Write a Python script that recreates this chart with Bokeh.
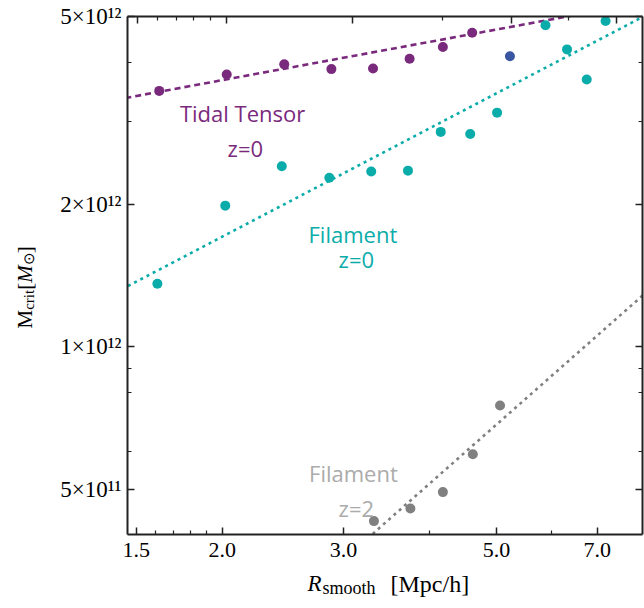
import math
import numpy as np
from bokeh.plotting import figure
from bokeh.layouts import row, column
from bokeh.models import (LogAxis, FixedTicker, Range1d, LogScale, Label,
                          CustomJSTickFormatter)
from bokeh.core.properties import value
from bokeh.embed import file_html
from bokeh.resources import INLINE

# ---------------- data ----------------
tidal_R = [1.62, 2.03, 2.46, 2.88, 3.31, 3.74, 4.18, 4.61]
tidal_M = [3.48e12, 3.77e12, 3.96e12, 3.87e12, 3.88e12, 4.07e12, 4.31e12, 4.62e12]
tidal_extra_R = [5.23]
tidal_extra_M = [4.12e12]
fil0_R = [1.61, 2.02, 2.44, 2.86, 3.29, 3.72, 4.15, 4.58, 5.01, 5.89, 6.33, 6.76, 7.20]
fil0_M = [1.36e12, 1.99e12, 2.41e12, 2.28e12, 2.35e12, 2.36e12, 2.85e12, 2.82e12,
          3.13e12, 4.79e12, 4.26e12, 3.68e12, 4.89e12]
fil2_R = [3.32, 3.75, 4.18, 4.62, 5.06]
fil2_M = [4.28e11, 4.55e11, 4.93e11, 5.93e11, 7.52e11]

# power-law fits: M = norm * (R / pivot) ** slope
fit_pivot = 3.0
fit_R = [1.40, 8.30]
tidal_fit_norm, tidal_fit_slope = 4.09e12, 0.269
fil0_fit_norm, fil0_fit_slope = 2.33e12, 0.762
fil2_fit_norm, fil2_fit_slope = 3.55e11, 1.287

x_ticks = [1.5, 2.0, 3.0, 5.0, 7.0]
x_minor = [1.6, 1.7, 1.8, 1.9, 4.0, 6.0]
x_tick_labels = ["1.5", "2.0", "3.0", "5.0", "7.0"]
y_ticks = [5e11, 1e12, 2e12, 5e12]
y_minor = [6e11, 8e11, 9e11, 3e12, 4e12]
y_tick_labels = ["5\u00d710\u00b9\u00b9", "1\u00d710\u00b9\u00b2", "2\u00d710\u00b9\u00b2", "5\u00d710\u00b9\u00b2"]

# ---------------- styling ----------------
PURPLE = "#7a2a7d"
BLUE = "#3a55a2"
TEAL = "#0aacaa"
GREY = "#808080"
GREY_TXT = "#ababab"
AXC = "#222222"
SERIF = "Liberation Serif"
SANS = "Open Sans"
W, H = 644, 608
LW = 44          # width of the strip holding the y title
BH = 40          # height of the strip holding the x title
FRAME_L, FRAME_R = 127, 642

p = figure(width=W - LW, height=H - BH, x_axis_type="log", y_axis_type="log",
           x_range=Range1d(1.457, 8.145), y_range=Range1d(4.01e11, 5e12),
           output_backend="svg", toolbar_location=None,
           min_border_left=FRAME_L - LW, min_border_right=W - FRAME_R, min_border_top=16,
           min_border_bottom=H - BH - 534)
p.background_fill_color = "white"
p.border_fill_color = "white"
p.outline_line_color = None
p.xgrid.visible = False
p.ygrid.visible = False

fmt_js = """
let best = 0, bd = 1e99;
for (let i = 0; i < tvals.length; i++) {
  const d = Math.abs(Math.log(tick / tvals[i]));
  if (d < bd) { bd = d; best = i; }
}
return bd < 1e-6 ? tlabels[best] : "";
"""
blank_js = "return '';"

def style_axis(ax, ticks, minor, labels=None, size="22px"):
    ax.ticker = FixedTicker(ticks=ticks, minor_ticks=minor)
    ax.axis_line_color = AXC
    ax.axis_line_width = 2
    ax.major_tick_line_color = AXC
    ax.major_tick_line_width = 1.5
    ax.minor_tick_line_color = AXC
    ax.minor_tick_line_width = 1.2
    ax.major_tick_in = 7
    ax.major_tick_out = 0
    ax.minor_tick_in = 4
    ax.minor_tick_out = 0
    if labels is None:
        ax.formatter = CustomJSTickFormatter(code=blank_js)
        ax.major_label_standoff = 0
    else:
        ax.formatter = CustomJSTickFormatter(args=dict(tvals=ticks, tlabels=labels), code=fmt_js)
        ax.major_label_text_font = SERIF
        ax.major_label_text_font_size = size
        ax.major_label_text_color = "black"

style_axis(p.xaxis[0], x_ticks, x_minor, x_tick_labels, "22px")
p.xaxis[0].major_label_standoff = 8
style_axis(p.yaxis[0], y_ticks, y_minor, y_tick_labels, "23px")
p.yaxis[0].major_label_standoff = 6

# top axis has a slightly different mapping in the reference
p.extra_x_ranges = {"top": Range1d(1.454, 7.617)}
p.extra_x_scales = {"top": LogScale()}
top_ax = LogAxis(x_range_name="top")
style_axis(top_ax, x_ticks, x_minor)
p.add_layout(top_ax, "above")
right_ax = LogAxis()
style_axis(right_ax, y_ticks, y_minor)
p.add_layout(right_ax, "right")

# ---------------- fit lines ----------------
fr = np.array(fit_R)
p.line(fr, tidal_fit_norm * (fr / fit_pivot) ** tidal_fit_slope, color=PURPLE,
       line_width=2.6, line_dash="6 4")
p.line(fr, fil0_fit_norm * (fr / fit_pivot) ** fil0_fit_slope, color=TEAL,
       line_width=2.6, line_dash="3 4")
p.line(fr, fil2_fit_norm * (fr / fit_pivot) ** fil2_fit_slope, color=GREY,
       line_width=2.6, line_dash="3 4")

# ---------------- points ----------------
p.scatter(tidal_R, tidal_M, size=10, color=PURPLE, line_color=None)
p.scatter(tidal_extra_R, tidal_extra_M, size=10, color=BLUE, line_color=None)
p.scatter(fil0_R, fil0_M, size=10, color=TEAL, line_color=None)
p.scatter(fil2_R, fil2_M, size=10, color=GREY, line_color=None)

# ---------------- in-plot labels ----------------
def txt(x, y, s, color):
    p.add_layout(Label(x=x, y=y, text=s, text_color=color, text_font=SANS,
                       text_font_size="22px", text_align="center",
                       text_baseline="middle"))

txt(2.14, 3.13e12, "Tidal Tensor", PURPLE)
txt(2.16, 2.64e12, "z=0", PURPLE)
txt(3.094, 1.731e12, "Filament", TEAL)
txt(3.13, 1.532e12, "z=0", TEAL)
txt(3.10, 5.41e11, "Filament", GREY_TXT)
txt(3.13, 4.56e11, "z=2", GREY_TXT)

# ---------------- axis titles in thin text strips ----------------
def strip(w, h, xr):
    f = figure(width=w, height=h, x_range=xr, y_range=Range1d(0, h),
               output_backend="svg", toolbar_location=None,
               x_axis_location=None, y_axis_location=None,
               min_border=0, min_border_left=0, min_border_right=0,
               min_border_top=0, min_border_bottom=0)
    f.xgrid.visible = False
    f.ygrid.visible = False
    f.outline_line_color = None
    f.background_fill_color = "white"
    f.border_fill_color = "white"
    return f

def piece(f, x, y, s, size, style="normal", angle=0.0):
    f.text(x=[x], y=[y], text=[s], text_font=value(SERIF),
           text_font_size=value(f"{size}px"), text_font_style=style,
           text_color="black", text_align="left", text_baseline="alphabetic",
           angle=angle)

# y title: rotated, reading upward (strip spans page x 0..LW, full height)
yl = strip(LW, H, Range1d(0, LW))
yb_x = 24
yy = H - 330 + 2
for s, size, style, sub, w in [("M", 21, "normal", 0, 18.7), ("crit", 15, "normal", 4, 20.0),
                               ("[", 21, "normal", 0, 7.0), ("M", 21, "italic", 0, 17.5),
                               ("\u2299", 15, "normal", 4, 12.0), ("]", 21, "normal", 0, 7.0)]:
    piece(yl, yb_x + sub, yy, s, size, style, math.pi / 2)
    yy += w

# x title: its strip's frame lines up with the main frame, so x is page x
xl = strip(W - LW, BH, Range1d(FRAME_L, FRAME_R))
xb_y = 25
for s, size, style, sub, x0 in [("R", 23, "italic", 0, 307), ("smooth", 18, "normal", -4, 322),
                                ("[Mpc/h]", 24, "normal", 0, 390)]:
    piece(xl, x0, xb_y + sub, s, size, style)

layout = row(yl, column(p, xl))
open("out.html", "w").write(file_html(layout, INLINE))
